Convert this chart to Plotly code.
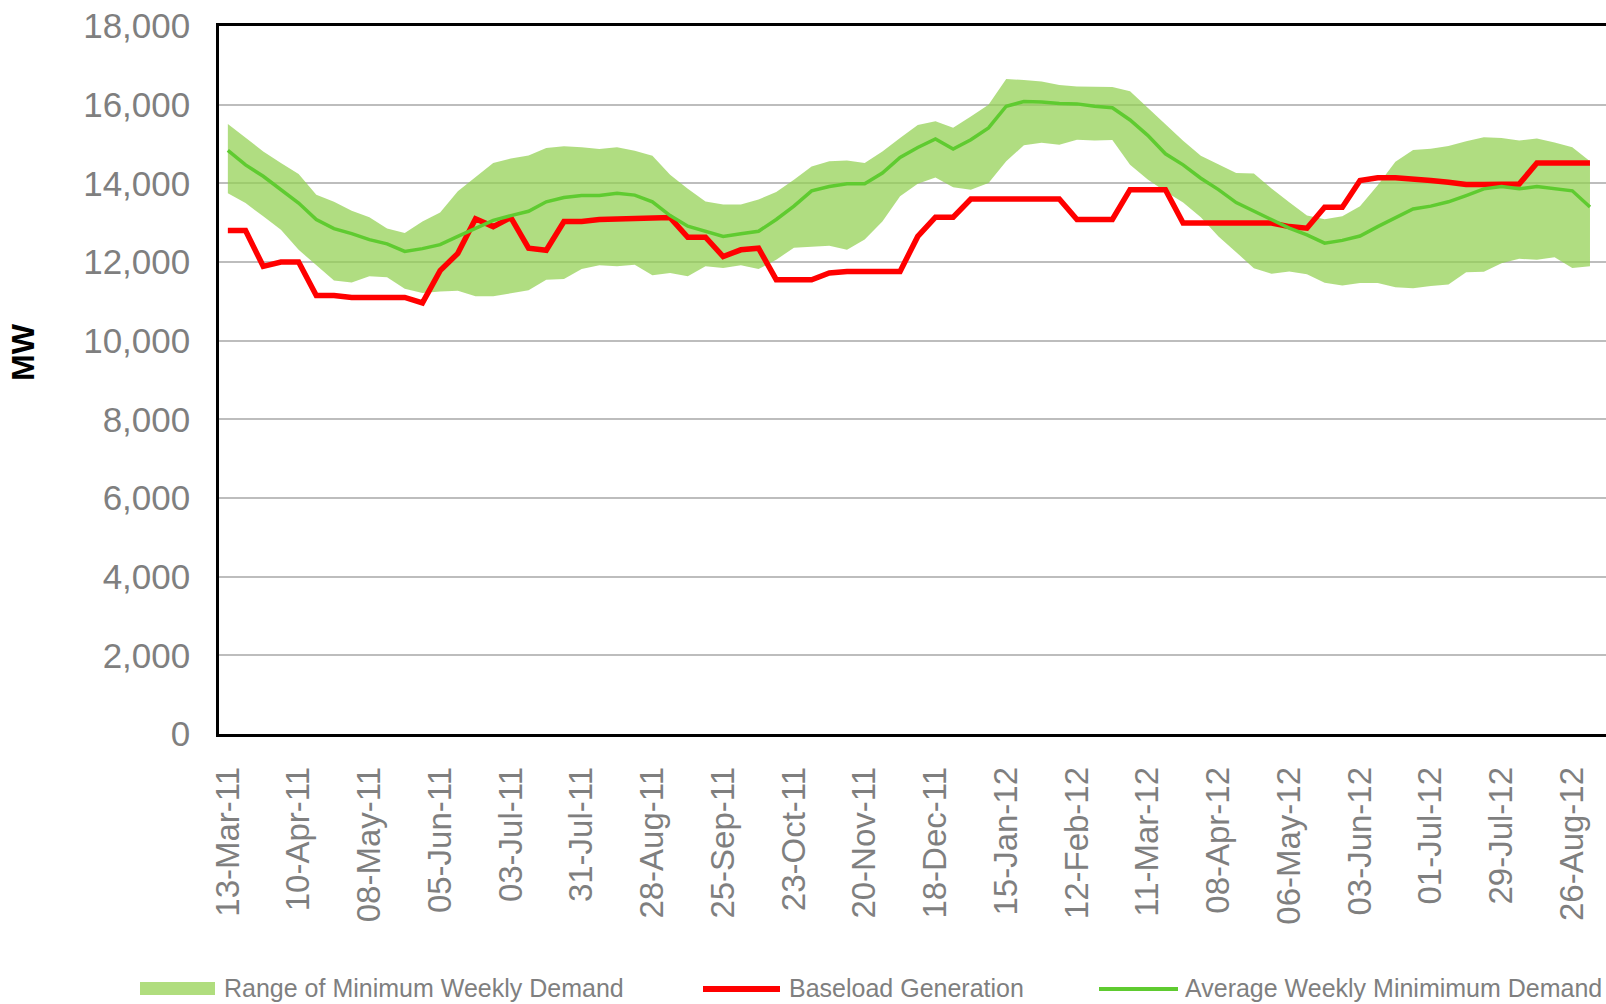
import pandas as pd
import plotly.graph_objects as go

# ---------------- data ----------------
week_start = "2011-03-13"
n_weeks = 78
weeks = pd.date_range(week_start, periods=n_weeks, freq="7D")

range_upper = [15510, 15150, 14810, 14520, 14240, 13710, 13530, 13300, 13140, 12850,
               12740, 13030, 13260, 13800, 14160, 14520, 14630, 14710, 14900, 14940,
               14920, 14870, 14920, 14830, 14700, 14220, 13860, 13540, 13460, 13460,
               13590, 13780, 14090, 14430, 14560, 14580, 14520, 14810, 15150, 15480,
               15580, 15410, 15700, 16000, 16650, 16630, 16590, 16500, 16460, 16460,
               16450, 16340, 15920, 15480, 15080, 14700, 14490, 14260, 14250, 13870,
               13520, 13180, 13090, 13160, 13420, 13950, 14550, 14850, 14880, 14950,
               15070, 15170, 15150, 15090, 15140, 15040, 14920, 14560]

range_lower = [13750, 13500, 13160, 12820, 12310, 11930, 11530, 11480, 11640, 11610,
               11320, 11210, 11250, 11270, 11130, 11130, 11210, 11280, 11550, 11570,
               11820, 11920, 11890, 11930, 11660, 11720, 11640, 11890, 11850, 11920,
               11820, 12060, 12360, 12380, 12410, 12310, 12570, 13030, 13670, 13990,
               14150, 13900, 13840, 14010, 14560, 14970, 15030, 14980, 15110, 15090,
               15100, 14470, 14100, 13790, 13510, 13140, 12650, 12250, 11840, 11700,
               11760, 11690, 11470, 11400, 11465, 11465, 11360, 11330, 11390, 11430,
               11740, 11750, 11970, 12080, 12060, 12120, 11850, 11890]

avg_min_demand = [14840, 14470, 14180, 13840, 13500, 13080, 12850, 12720, 12570, 12460,
                  12270, 12340, 12440, 12650, 12850, 13060, 13180, 13290, 13530, 13640,
                  13690, 13690, 13750, 13700, 13530, 13180, 12910, 12780, 12650, 12720,
                  12780, 13080, 13420, 13810, 13920, 13990, 13990, 14260, 14660, 14910,
                  15130, 14870, 15110, 15410, 15960, 16080, 16070, 16030, 16020, 15960,
                  15920, 15610, 15220, 14750, 14470, 14130, 13840, 13510, 13290, 13070,
                  12860, 12690, 12480, 12550, 12660, 12900, 13120, 13350, 13420, 13530,
                  13690, 13860, 13920, 13860, 13920, 13860, 13810, 13400]

baseload = [12800, 12800, 11890, 12000, 12000, 11150, 11150, 11100, 11100, 11100,
            11100, 10960, 11780, 12220, 13100, 12900, 13130, 12350, 12300, 13030,
            13030, 13080, 13090, 13090, 13090, 13130, 12630, 12630, 12140, 12310,
            12350, 11550, 11550, 11550, 11720, 11760, 11760, 11760, 11760, 12650,
            13140, 13140, 13600, 13600, 13600, 13600, 13600, 13600, 13080, 13080,
            13080, 13840, 13840, 13840, 12990, 12990, 12990, 12990, 12990, 12990,
            12900, 12860, 13390, 13390, 14070, 14140, 14140, 14090, 14070, 14030,
            13970, 13970, 13980, 13980, 14520, 14520, 14520, 14520]

series_names = ["Range of Minimum Weekly Demand", "Baseload Generation",
                "Average Weekly Minimimum Demand"]
y_ticks = list(range(0, 18001, 2000))
tick_every = 4

# ---------------- style ----------------
W, H = 1606, 1004
L, R, T, B = 219, 0, 26, 270
FONT = "Liberation Sans, Arial, sans-serif"
GREY = "#7F7F7F"
BAND = "rgba(146,208,80,0.72)"
RED = "#FF0000"
GREEN = "#5FCB30"

fig = go.Figure()
fig.add_trace(go.Scatter(x=weeks, y=range_lower, mode="lines",
                         line=dict(width=0, color=BAND), showlegend=False,
                         hoverinfo="skip"))
fig.add_trace(go.Scatter(x=weeks, y=range_upper, mode="lines", fill="tonexty",
                         fillcolor=BAND, line=dict(width=0, color=BAND),
                         name=series_names[0], showlegend=False))
fig.add_trace(go.Scatter(x=weeks, y=baseload, mode="lines",
                         line=dict(width=5.5, color=RED), name=series_names[1],
                         showlegend=False))
fig.add_trace(go.Scatter(x=weeks, y=avg_min_demand, mode="lines",
                         line=dict(width=3.5, color=GREEN), name=series_names[2],
                         showlegend=False))

plot_w = W - L - R
plot_h = H - T - B
x_left = weeks[0] - pd.Timedelta(days=3.5)
x_right = weeks[-1] + pd.Timedelta(days=6.34)

fig.update_layout(
    width=W, height=H, autosize=False,
    margin=dict(l=L, r=R, t=T, b=B, pad=0),
    paper_bgcolor="white", plot_bgcolor="white",
    font=dict(family=FONT, color=GREY, size=34),
    xaxis=dict(type="date", range=[x_left, x_right],
               tickvals=list(weeks[::tick_every]), tickformat="%d-%b-%y",
               tickangle=-90, showgrid=False, showline=True, linecolor="black",
               linewidth=2.5, mirror=True, ticks="", ticklabelstandoff=17,
               tickfont=dict(family=FONT, size=33, color=GREY)),
    yaxis=dict(range=[0, 18000], tickvals=y_ticks, tickformat=",d",
               showgrid=True, gridcolor="#BDBDBD", gridwidth=1.5,
               showline=True, linecolor="black", linewidth=2.5, zeroline=False,
               ticks="", ticklabelstandoff=19,
               tickfont=dict(family=FONT, size=35, color=GREY)),
)


def px_x(px):
    return (px - L) / plot_w


def px_y(py):
    return (H - B - py) / plot_h


# y-axis title
fig.add_annotation(text="<b>MW</b>", xref="paper", yref="paper",
                   x=px_x(23), y=px_y(352), showarrow=False, textangle=-90,
                   xanchor="center", yanchor="middle",
                   font=dict(family=FONT, size=32, color="black"))

# manual legend
leg_y = 989
fig.add_shape(type="rect", xref="paper", yref="paper",
              x0=px_x(140), x1=px_x(215), y0=px_y(995), y1=px_y(982),
              fillcolor="rgb(176,221,126)", line=dict(width=0))
fig.add_shape(type="line", xref="paper", yref="paper",
              x0=px_x(703), x1=px_x(780), y0=px_y(leg_y), y1=px_y(leg_y),
              line=dict(color=RED, width=6))
fig.add_shape(type="line", xref="paper", yref="paper",
              x0=px_x(1099), x1=px_x(1178), y0=px_y(leg_y), y1=px_y(leg_y),
              line=dict(color=GREEN, width=4))
for txt, xs in zip(series_names, [222, 787, 1183]):
    fig.add_annotation(text=txt, xref="paper", yref="paper", x=px_x(xs),
                       y=px_y(988), showarrow=False, xanchor="left",
                       yanchor="middle",
                       font=dict(family=FONT, size=25, color=GREY))

fig.write_html("out.html", config={"displayModeBar": False},
               post_script="document.body.style.margin='0';")
